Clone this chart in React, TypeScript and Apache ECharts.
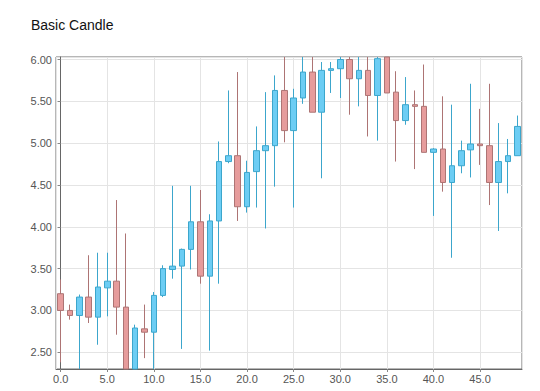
import React, { useEffect, useRef } from "react";
import * as echarts from "echarts";

const opens = [3.2, 3.0, 2.94, 3.16, 2.92, 3.27, 3.35, 3.04, 2.15, 2.78, 2.74, 3.18, 3.49, 3.53, 3.73, 4.06, 3.41, 4.07, 4.78, 4.85, 4.24, 4.66, 4.91, 4.97, 5.63, 5.15, 5.54, 5.85, 5.37, 5.87, 5.89, 6.0, 5.77, 5.87, 5.57, 6.05, 5.61, 5.27, 5.46, 5.44, 4.89, 4.93, 4.53, 4.73, 4.92, 4.99, 4.97, 4.53, 4.78, 4.85];
const closes = [3.0, 2.94, 3.16, 2.92, 3.28, 3.35, 3.04, 2.2, 2.79, 2.74, 3.18, 3.5, 3.53, 3.73, 4.06, 3.41, 4.07, 4.78, 4.85, 4.24, 4.65, 4.91, 4.97, 5.63, 5.15, 5.54, 5.85, 5.37, 5.87, 5.89, 6.0, 5.77, 5.87, 5.57, 6.01, 5.6, 5.27, 5.46, 5.44, 4.89, 4.93, 4.53, 4.73, 4.91, 4.99, 4.97, 4.53, 4.78, 4.85, 5.2];
const lows = [2.38, 2.89, 2.2, 2.85, 2.59, 2.93, 2.71, 2.1, 2.05, 2.43, 2.2, 3.16, 3.38, 2.54, 3.49, 3.32, 2.52, 3.32, 4.76, 4.07, 4.17, 4.23, 3.98, 4.48, 5.01, 4.23, 5.47, 5.37, 4.58, 5.6, 5.54, 5.34, 5.44, 5.08, 5.03, 5.6, 4.78, 5.22, 4.69, 4.89, 4.13, 4.42, 3.63, 4.64, 4.59, 4.74, 4.26, 3.95, 4.4, 4.85];
const highs = [3.37, 3.07, 3.19, 3.66, 3.69, 3.69, 4.32, 3.92, 2.83, 3.07, 3.22, 3.54, 4.49, 3.74, 4.49, 4.44, 4.15, 5.02, 5.63, 5.85, 4.79, 5.2, 5.61, 5.81, 6.1, 5.65, 6.1, 6.1, 5.97, 5.97, 6.1, 6.1, 6.1, 6.1, 6.1, 6.1, 5.86, 5.79, 5.63, 5.94, 4.94, 5.56, 5.46, 5.03, 5.71, 5.41, 5.71, 5.24, 5.05, 5.33];

const Y_MIN = 2.3;
const Y_MAX = 6.03;

const FONT = "'Liberation Sans', Arial, sans-serif";

export default function App() {
  const ref = useRef<HTMLDivElement>(null);
  useEffect(() => {
    if (!ref.current) return;
    const chart = echarts.init(ref.current, null, { renderer: "svg" });
    // clip to the visible plot range (the reference crops candles at the frame)
    const c = (v: number) => Math.max(Y_MIN, Math.min(Y_MAX, v));
    const data = opens.map((o, i) => [i, c(o), c(closes[i]), c(lows[i]), c(highs[i])]);
    chart.setOption({
      animation: false,
      backgroundColor: "#ffffff",
      title: {
        text: "Basic Candle",
        left: 26,
        top: 13,
        textStyle: { fontSize: 14, fontWeight: "normal", color: "#111", fontFamily: FONT },
      },
      grid: {
        left: 56,
        right: 18,
        top: 57,
        bottom: 22,
        show: true,
        borderColor: "#6f6f6f",
        borderWidth: 1,
      },
      xAxis: {
        type: "value",
        min: -0.5,
        max: 49.5,
        splitNumber: 10,
        axisLine: { show: true, lineStyle: { color: "#666" } },
        axisTick: { show: true, length: 3, lineStyle: { color: "#888" } },
        axisLabel: {
          color: "#555",
          fontSize: 11,
          fontFamily: FONT,
          margin: 4,
          showMinLabel: false,
          showMaxLabel: false,
          formatter: (v: number) => v.toFixed(1),
        },
        splitLine: { show: true, lineStyle: { color: "#e4e4e4" } },
      },
      yAxis: {
        type: "value",
        min: Y_MIN,
        max: Y_MAX,
        splitNumber: 7,
        scale: true,
        axisLine: { show: true, lineStyle: { color: "#666" } },
        axisTick: { show: true, length: 3, lineStyle: { color: "#888" } },
        axisLabel: {
          color: "#555",
          fontSize: 11,
          fontFamily: FONT,
          margin: 4,
          showMinLabel: false,
          showMaxLabel: false,
          formatter: (v: number) => v.toFixed(2),
        },
        splitLine: { show: true, lineStyle: { color: "#e4e4e4" } },
      },
      series: [
        {
          type: "candlestick",
          data,
          encode: { x: 0, y: [1, 2, 3, 4] },
          barWidth: 6,
          clip: true,
          itemStyle: {
            color: "#6ccdf4",
            borderColor: "#3ca6cc",
            color0: "#e69c9c",
            borderColor0: "#ad7474",
            borderWidth: 1,
          },
        },
      ],
    });
    return () => chart.dispose();
  }, []);
  return <div ref={ref} style={{ width: 540, height: 391, position: "absolute", left: 0, top: 0 }} />;
}
